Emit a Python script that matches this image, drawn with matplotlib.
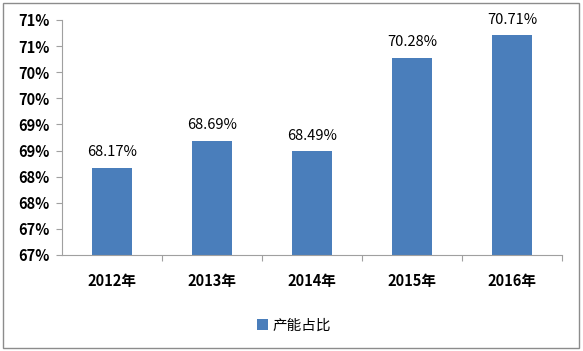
import matplotlib
matplotlib.use('Agg')
import matplotlib.pyplot as plt
from matplotlib.patches import Rectangle
from matplotlib.ticker import FixedLocator, FuncFormatter

plt.rcParams['font.family'] = ['Noto Sans CJK SC', 'DejaVu Sans']

# 数据
years = ['2012年', '2013年', '2014年', '2015年', '2016年']
ratio = [68.17, 68.69, 68.49, 70.28, 70.71]
series_name = '产能占比'
y_ticks = [66.5, 67.0, 67.5, 68.0, 68.5, 69.0, 69.5, 70.0, 70.5, 71.0]

BAR_COLOR = '#4A7EBB'
FS = 10.5

fig = plt.figure(figsize=(5.83, 3.51), dpi=100)
ax = fig.add_axes([62 / 583, 1 - 255 / 351, 500 / 583, 235 / 351])

x = list(range(len(years)))
bars = ax.bar(x, ratio, width=0.4, color=BAR_COLOR, label=series_name, zorder=2)

ax.set_xlim(-0.5, len(years) - 0.5)
ax.set_ylim(66.5, 71.0)

# y轴刻度 (Excel 四舍五入显示)
ax.yaxis.set_major_locator(FixedLocator(y_ticks))
ax.yaxis.set_major_formatter(FuncFormatter(lambda v, p: f'{int(v + 0.5)}%'))
ax.tick_params(axis='y', direction='out', length=4, color='#A0A0A0',
               labelsize=FS, pad=5)
for lab in ax.get_yticklabels():
    lab.set_fontweight('bold')

# x轴: 刻度在类别边界
ax.set_xticks([i + 0.5 for i in range(len(years))], minor=False)
ax.set_xticklabels([''] * len(years))
ax.set_xticks(x, minor=True)
ax.set_xticklabels(years, minor=True, fontsize=FS, fontweight='bold')
ax.tick_params(axis='x', which='major', direction='out', length=4, color='#A0A0A0')
ax.tick_params(axis='x', which='minor', length=0, pad=13)

for s in ['top', 'right']:
    ax.spines[s].set_visible(False)
for s in ['left', 'bottom']:
    ax.spines[s].set_color('#A0A0A0')

# 数据标签
for b, v in zip(bars, ratio):
    ax.annotate(f'{v:.2f}%', (b.get_x() + b.get_width() / 2, v),
                xytext=(0, 6), textcoords='offset points',
                ha='center', va='bottom', fontsize=FS, fontweight='medium')

ax.legend(loc='center', bbox_to_anchor=(0.464, -0.30), frameon=False,
          fontsize=FS, handlelength=0.7, handleheight=0.7, handletextpad=0.3)

# 外框
fig.patches.append(Rectangle((3 / 583, 3 / 351), 576 / 583, 345 / 351,
                             transform=fig.transFigure, fill=False,
                             edgecolor='#8C8C8C', linewidth=1))

fig.savefig('out.png', dpi=100)
